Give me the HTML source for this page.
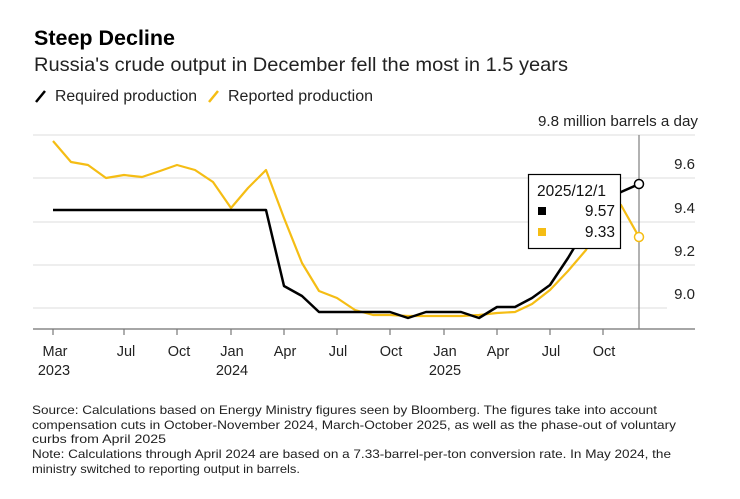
<!DOCTYPE html>
<html><head><meta charset="utf-8"><style>
html,body{margin:0;padding:0;background:#fff;}
svg{display:block;font-family:"Liberation Sans",Arial,sans-serif;}
</style></head><body>
<svg width="740" height="499" viewBox="0 0 740 499" xmlns="http://www.w3.org/2000/svg">
<text x="34" y="45" font-size="21.5" font-weight="bold" fill="#000">Steep Decline</text>
<text x="34" y="71" font-size="19.5" fill="#222" textLength="534" lengthAdjust="spacingAndGlyphs">Russia's crude output in December fell the most in 1.5 years</text>
<line x1="36" y1="102" x2="45" y2="91" stroke="#000" stroke-width="2.5"/>
<text x="55" y="101" font-size="15.5" fill="#222" textLength="142" lengthAdjust="spacingAndGlyphs">Required production</text>
<line x1="209" y1="102" x2="218" y2="91" stroke="#f5bd14" stroke-width="2.5"/>
<text x="228" y="101" font-size="15.5" fill="#222" textLength="145" lengthAdjust="spacingAndGlyphs">Reported production</text>
<text x="698" y="126" font-size="15" fill="#222" text-anchor="end" textLength="160" lengthAdjust="spacingAndGlyphs">9.8 million barrels a day</text>
<g stroke="#e4e4e4" stroke-width="1.3">
<line x1="33" y1="135" x2="695" y2="135"/><line x1="33" y1="178" x2="695" y2="178"/>
<line x1="33" y1="222" x2="695" y2="222"/><line x1="33" y1="265" x2="695" y2="265"/>
<line x1="33" y1="308" x2="667" y2="308"/>
</g>
<g font-size="15" fill="#222" text-anchor="end">
<text x="695" y="169">9.6</text><text x="695" y="213">9.4</text><text x="695" y="256">9.2</text><text x="695" y="299">9.0</text>
</g>
<line x1="639" y1="135" x2="639" y2="329" stroke="#888" stroke-width="1.3"/>
<line x1="33" y1="329" x2="695" y2="329" stroke="#888" stroke-width="1.5"/>
<g stroke="#777" stroke-width="1.2">
<line x1="53" y1="329" x2="53" y2="335"/><line x1="124" y1="329" x2="124" y2="335"/><line x1="177" y1="329" x2="177" y2="335"/>
<line x1="231" y1="329" x2="231" y2="335"/><line x1="284" y1="329" x2="284" y2="335"/><line x1="337" y1="329" x2="337" y2="335"/>
<line x1="390" y1="329" x2="390" y2="335"/><line x1="444" y1="329" x2="444" y2="335"/><line x1="497" y1="329" x2="497" y2="335"/>
<line x1="550" y1="329" x2="550" y2="335"/><line x1="603" y1="329" x2="603" y2="335"/>
</g>
<g font-size="14.5" fill="#222" text-anchor="middle">
<text x="55" y="356">Mar</text><text x="126" y="356">Jul</text><text x="179" y="356">Oct</text><text x="232" y="356">Jan</text>
<text x="285" y="356">Apr</text><text x="338" y="356">Jul</text><text x="391" y="356">Oct</text><text x="445" y="356">Jan</text>
<text x="498" y="356">Apr</text><text x="551" y="356">Jul</text><text x="604" y="356">Oct</text>
<text x="54" y="375">2023</text><text x="232" y="375">2024</text><text x="445" y="375">2025</text>
</g>
<polyline fill="none" stroke="#f5bd14" stroke-width="2.2" stroke-linejoin="round" points="53,141 71,162 88,165 106,178 124,175 142,177 160,171 177,165 195,170 213,182 231,208 248,188 266,170 284,218 302,263 319,291 337,298 355,310 373,315 390,315 408,316 426,316 444,316 461,316 479,315 497,313 515,312 532,304 550,290 568,271 586,250 603,215 621,205 639,237"/>
<polyline fill="none" stroke="#000" stroke-width="2.5" stroke-linejoin="round" points="53,210 266,210 284,286 302,296 319,312 390,312 408,318 426,312 461,312 479,318 497,307 515,307 532,298 550,285 568,258 586,228 603,205 621,192 639,184"/>
<circle cx="639" cy="184" r="4.5" fill="#fff" stroke="#000" stroke-width="1.5"/>
<circle cx="639" cy="237" r="4.5" fill="#fff" stroke="#f5bd14" stroke-width="1.5"/>
<rect x="528.5" y="174.5" width="92" height="74" fill="#fff" stroke="#000" stroke-width="1.2"/>
<text x="537" y="196" font-size="15.5" fill="#111">2025/12/1</text>
<rect x="538" y="207" width="8" height="8" fill="#000"/>
<text x="615" y="216" font-size="15.5" fill="#111" text-anchor="end">9.57</text>
<rect x="538" y="228" width="8" height="8" fill="#f5bd14"/>
<text x="615" y="237" font-size="15.5" fill="#111" text-anchor="end">9.33</text>
<g font-size="12" fill="#222">
<text x="32" y="414" textLength="625" lengthAdjust="spacingAndGlyphs">Source: Calculations based on Energy Ministry figures seen by Bloomberg. The figures take into account</text>
<text x="32" y="429" textLength="644" lengthAdjust="spacingAndGlyphs">compensation cuts in October-November 2024, March-October 2025, as well as the phase-out of voluntary</text>
<text x="32" y="443" textLength="134" lengthAdjust="spacingAndGlyphs">curbs from April 2025</text>
<text x="32" y="458" textLength="639" lengthAdjust="spacingAndGlyphs">Note: Calculations through April 2024 are based on a 7.33-barrel-per-ton conversion rate. In May 2024, the</text>
<text x="32" y="473" textLength="268" lengthAdjust="spacingAndGlyphs">ministry switched to reporting output in barrels.</text>
</g>
</svg>
</body></html>
